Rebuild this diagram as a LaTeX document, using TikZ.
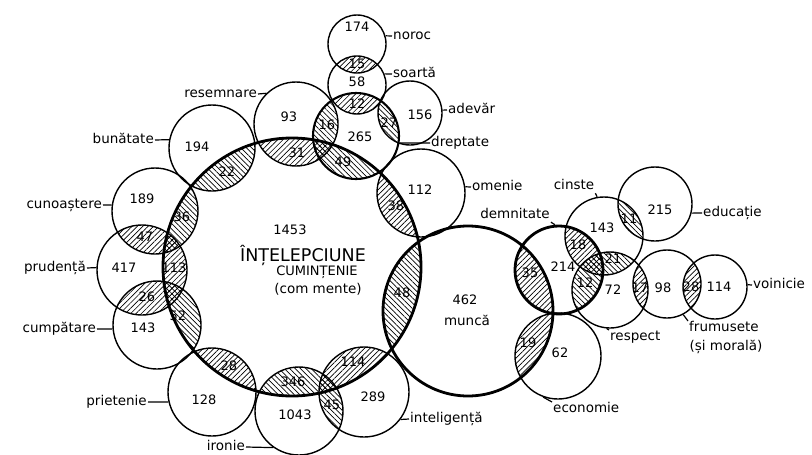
\documentclass[tikz,border=0pt]{standalone}
\usepackage{fontspec}
\setmainfont{DejaVu Sans}
\usetikzlibrary{patterns.meta}

\begin{document}
\begin{tikzpicture}[x=1pt,y=-1pt,
  circ/.style={draw,circle,line width=1.4pt,inner sep=0pt},
  mid/.style={circ,line width=2.1pt},
  heavy/.style={circ,line width=2.8pt},
  num/.style={inner sep=0pt,font=\fontsize{13}{14}\selectfont},
  lbl/.style={inner sep=1pt,text height=9pt,text depth=3pt,font=\fontsize{13.5}{14}\selectfont},
  leader/.style={line width=1.2pt},
  hne/.style={pattern={Lines[angle=45,distance=3.8pt,line width=.7pt]}},
  hnw/.style={pattern={Lines[angle=-45,distance=3.8pt,line width=.7pt]}}]
\useasboundingbox (0,0) rectangle (812,455);
% Circles
\node[circ,minimum size=58pt] (noroc) at (357,44) {};
\node[circ,minimum size=58pt] (soarta) at (357,85) {};
\node[circ,minimum size=84pt] (resemnare) at (296,124) {};
\node[circ,minimum size=64pt] (adevar) at (410,113) {};
\node[circ,minimum size=86pt] (bunatate) at (212,148) {};
\node[circ,minimum size=86pt] (cunoastere) at (155,211) {};
\node[circ,minimum size=90pt] (prudenta) at (142,270) {};
\node[circ,minimum size=88pt] (cumpatare) at (157,325) {};
\node[circ,minimum size=88pt] (prietenie) at (212,392) {};
\node[circ,minimum size=88pt] (ironie) at (299,411) {};
\node[circ,minimum size=90pt] (inteligenta) at (364,392) {};
\node[circ,minimum size=88pt] (omenie) at (421,193) {};
\node[circ,minimum size=86pt] (economie) at (558,356) {};
\node[circ,minimum size=78pt] (cinste) at (604,236) {};
\node[circ,minimum size=74pt] (educatie) at (655,204) {};
\node[circ,minimum size=76pt] (respect) at (610,290) {};
\node[circ,minimum size=68pt] (frumusete) at (667,284) {};
\node[circ,minimum size=64pt] (voinicie) at (715,287) {};
\node[mid,minimum size=86pt] (dreptate) at (356,136) {};
\node[heavy,minimum size=88pt] (demnitate) at (559,270) {};
\node[heavy,minimum size=170pt] (munca) at (468,311) {};
\node[heavy,minimum size=258pt] (wisdom) at (292,267) {};
% Hatched overlaps
\begin{scope}\clip (noroc.center) circle (29pt); \fill[hne] (soarta.center) circle (29pt);\end{scope}
\begin{scope}\clip (soarta.center) circle (29pt); \fill[hne] (dreptate.center) circle (43pt);\end{scope}
\begin{scope}\clip (resemnare.center) circle (42pt); \fill[hnw] (dreptate.center) circle (43pt);\end{scope}
\begin{scope}\clip (adevar.center) circle (32pt); \fill[hnw] (dreptate.center) circle (43pt);\end{scope}
\begin{scope}\clip (wisdom.center) circle (129pt); \fill[hnw] (dreptate.center) circle (43pt);\end{scope}
\begin{scope}\clip (wisdom.center) circle (129pt); \fill[hne] (resemnare.center) circle (42pt);\end{scope}
\begin{scope}\clip (wisdom.center) circle (129pt); \fill[hnw] (bunatate.center) circle (43pt);\end{scope}
\begin{scope}\clip (wisdom.center) circle (129pt); \fill[hne] (omenie.center) circle (44pt);\end{scope}
\begin{scope}\clip (wisdom.center) circle (129pt); \fill[hnw] (cunoastere.center) circle (43pt);\end{scope}
\begin{scope}\clip (prudenta.center) circle (45pt); \fill[hne] (cunoastere.center) circle (43pt);\end{scope}
\begin{scope}\clip (wisdom.center) circle (129pt); \fill[hne] (prudenta.center) circle (45pt);\end{scope}
\begin{scope}\clip (prudenta.center) circle (45pt); \fill[hne] (cumpatare.center) circle (44pt);\end{scope}
\begin{scope}\clip (wisdom.center) circle (129pt); \fill[hnw] (cumpatare.center) circle (44pt);\end{scope}
\begin{scope}\clip (wisdom.center) circle (129pt); \fill[hne] (prietenie.center) circle (44pt);\end{scope}
\begin{scope}\clip (wisdom.center) circle (129pt); \fill[hnw] (ironie.center) circle (44pt);\end{scope}
\begin{scope}\clip (wisdom.center) circle (129pt); \fill[hne] (inteligenta.center) circle (45pt);\end{scope}
\begin{scope}\clip (ironie.center) circle (44pt); \fill[hnw] (inteligenta.center) circle (45pt);\end{scope}
\begin{scope}\clip (wisdom.center) circle (129pt); \fill[hnw] (munca.center) circle (85pt);\end{scope}
\begin{scope}\clip (munca.center) circle (85pt); \fill[hne] (demnitate.center) circle (44pt);\end{scope}
\begin{scope}\clip (munca.center) circle (85pt); \fill[hne] (economie.center) circle (43pt);\end{scope}
\begin{scope}\clip (demnitate.center) circle (44pt); \fill[hne] (cinste.center) circle (39pt);\end{scope}
\begin{scope}\clip (cinste.center) circle (39pt); \fill[hnw] (respect.center) circle (38pt);\end{scope}
\begin{scope}\clip (demnitate.center) circle (44pt); \fill[hnw] (respect.center) circle (38pt);\end{scope}
\begin{scope}\clip (cinste.center) circle (39pt); \fill[hnw] (educatie.center) circle (37pt);\end{scope}
\begin{scope}\clip (respect.center) circle (38pt); \fill[hne] (frumusete.center) circle (34pt);\end{scope}
\begin{scope}\clip (frumusete.center) circle (34pt); \fill[hne] (voinicie.center) circle (32pt);\end{scope}
% Numbers
\node[num] (n174) at (357,27) {174};
\node[num] (n15) at (357,64) {15};
\node[num] (n58) at (357,82) {58};
\node[num] (n12a) at (357,104) {12};
\node[num] (n93) at (289,117) {93};
\node[num] (n16) at (327,125) {16};
\node[num] (n265) at (360,137) {265};
\node[num] (n27) at (389,123) {27};
\node[num] (n156) at (420,115) {156};
\node[num] (n194) at (197,147) {194};
\node[num] (n22) at (227,172) {22};
\node[num] (n31) at (297,153) {31};
\node[num] (n49) at (343,162) {49};
\node[num] (n112) at (420,190) {112};
\node[num] (n38) at (396,206) {38};
\node[num] (n189) at (142,199) {189};
\node[num] (n36) at (182,217) {36};
\node[num] (n47) at (145,237) {47};
\node[num] (n417) at (124,268) {417};
\node[num] (n113) at (174,268) {113};
\node[num] (n26) at (147,297) {26};
\node[num] (n52) at (178,316) {52};
\node[num] (n143a) at (143,328) {143};
\node[num] (n28a) at (229,366) {28};
\node[num] (n128) at (204,400) {128};
\node[num] (n346) at (293,382) {346};
\node[num] (n1043) at (295,415) {1043};
\node[num] (n45) at (332,405) {45};
\node[num] (n114a) at (353,362) {114};
\node[num] (n289) at (373,397) {289};
\node[num] (n48) at (402,293) {48};
\node[num] (n462) at (465,300) {462};
\node[num] (n35) at (530,273) {35};
\node[num] (n214) at (563,267) {214};
\node[num] (n18) at (578,245) {18};
\node[num] (n143b) at (602,228) {143};
\node[num] (n11) at (629,219) {11};
\node[num] (n215) at (660,210) {215};
\node[num] (n21) at (613,259) {21};
\node[num] (n12b) at (585,283) {12};
\node[num] (n72) at (613,290) {72};
\node[num] (n17) at (640,288) {17};
\node[num] (n98) at (663,288) {98};
\node[num] (n28b) at (691,287) {28};
\node[num] (n114b) at (719,287) {114};
\node[num] (n19) at (528,343) {19};
\node[num] (n62) at (560,353) {62};
\node[num] (n1453) at (290,230) {1453};
% Names in the two big circles
\node[font=\fontsize{17.5}{18}\selectfont] (tintel) at (303,255) {ÎNȚELEPCIUNE};
\node[font=\fontsize{13}{14}\selectfont] (tcumin) at (317,272) {CUMINȚENIE};
\node[font=\fontsize{13.5}{14}\selectfont] (tcomm) at (318,289) {(com mente)};
\node[lbl] (lmunca) at (467,322) {muncă};
% Labels
\node[lbl,anchor=west] (lnoroc) at (392,36) {noroc};
\node[lbl,anchor=west] (lsoarta) at (392,74) {soartă};
\node[lbl,anchor=west] (ladevar) at (447,110) {adevăr};
\node[lbl,anchor=west] (ldreptate) at (430,143) {dreptate};
\node[lbl,anchor=west] (lomenie) at (471,187) {omenie};
\node[lbl,anchor=east] (lresemnare) at (258,94) {resemnare};
\node[lbl,anchor=east] (lbunatate) at (155,140) {bunătate};
\node[lbl,anchor=east] (lcunoastere) at (103,205) {cunoaștere};
\node[lbl,anchor=east] (lprudenta) at (87,268) {prudență};
\node[lbl,anchor=east] (lcumpatare) at (97,329) {cumpătare};
\node[lbl,anchor=east] (lprietenie) at (148,402) {prietenie};
\node[lbl,anchor=east] (lironie) at (246,447) {ironie};
\node[lbl,anchor=west] (linteligenta) at (409,419) {inteligență};
\node[lbl] (lcinste) at (574,186) {cinste};
\node[lbl] (ldemnitate) at (515,215) {demnitate};
\node[lbl,anchor=west] (leducatie) at (702,213) {educație};
\node[lbl,anchor=west] (lvoinicie) at (752,285) {voinicie};
\node[lbl,anchor=north west] (lrespect) at (609,330) {respect};
\node[lbl,anchor=north west] (lfrumusete) at (688,321) {frumusete};
\node[lbl] (lmorala) at (726,347) {(și morală)};
\node[lbl,anchor=north west] (leconomie) at (552,402) {economie};
% Leaders
\draw[leader] (noroc.16) -- (lnoroc.west);
\draw[leader] (soarta.22) -- (lsoarta.west);
\draw[leader] (adevar.5) -- (ladevar.west);
\draw[leader] (dreptate.-9) -- (ldreptate.west);
\draw[leader] (omenie.8) -- (lomenie.west);
\draw[leader] (resemnare.134) -- (lresemnare.east);
\draw[leader] (bunatate.169) -- (lbunatate.east);
\draw[leader] (cunoastere.172) -- (lcunoastere.east);
\draw[leader] (prudenta.177) -- (lprudenta.east);
\draw[leader] (cumpatare.185) -- (lcumpatare.east);
\draw[leader] (prietenie.193) -- (lprietenie.east);
\draw[leader] (ironie.235) -- (lironie.east);
\draw[leader] (inteligenta.-37) -- (linteligenta.west);
\draw[leader] (cinste.100) -- (lcinste.south east);
\draw[leader] (demnitate.95) -- (ldemnitate.south east);
\draw[leader] (educatie.-14) -- (leducatie.west);
\draw[leader] (voinicie.4) -- (lvoinicie.west);
\draw[leader] (respect.265) -- (lrespect.north west);
\draw[leader] (frumusete.-62) -- (lfrumusete.north west);
\draw[leader] (economie.250) -- (leconomie.north west);
\end{tikzpicture}
\end{document}
